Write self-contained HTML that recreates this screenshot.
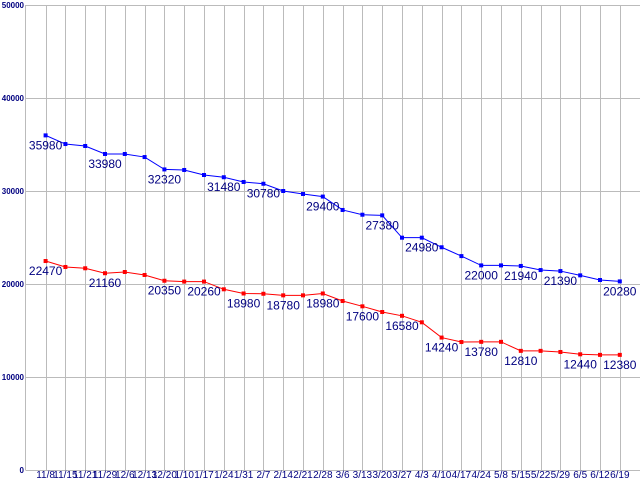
<!DOCTYPE html>
<html><head><meta charset="utf-8"><style>
body{margin:0;background:#fff}
svg{display:block;font-family:"Liberation Sans",sans-serif}
</style></head><body>
<svg id="chart" width="640" height="480" viewBox="0 0 640 480" xmlns="http://www.w3.org/2000/svg"></svg>
<script>
const categories=["11/8","11/15","11/21","11/29","12/6","12/13","12/20","1/10","1/17","1/24","1/31","2/7","2/14","2/21","2/28","3/6","3/13","3/20","3/27","4/3","4/10","4/17","4/24","5/8","5/15","5/22","5/29","6/5","6/12","6/19"];
const blueValues=[35980,35050,34840,33980,33980,33650,32320,32260,31720,31480,30970,30780,30000,29680,29400,27960,27450,27380,24980,24980,23950,23000,22000,22000,21940,21500,21390,20930,20430,20280];
const redValues=[22470,21830,21690,21160,21290,20970,20350,20260,20260,19430,18980,18950,18780,18780,18980,18170,17600,16990,16580,15880,14240,13760,13780,13780,12810,12810,12690,12440,12380,12380];
const blueLabelIdx=[0,3,6,9,11,14,17,19,22,24,26,29];
const redLabelIdx=[0,3,6,8,10,12,14,16,18,20,22,24,27,29];
const yTicks=[0,10000,20000,30000,40000,50000];
const NS="http://www.w3.org/2000/svg";
const svg=document.getElementById('chart');
const xS=i=>45.6+i*19.8;
const yS=v=>470-v*0.0093;
function mk(t,a){const e=document.createElementNS(NS,t);for(const k in a)e.setAttribute(k,a[k]);svg.appendChild(e);return e;}
yTicks.forEach(v=>{
  const l=mk('line',{x1:25.5,x2:640,y1:yS(v)+0.5,y2:yS(v)+0.5,stroke:'#bbb','stroke-width':1});
  
  
  const t=mk('text',{x:24,y:yS(v)+3,'text-anchor':'end','font-size':8,'font-weight':'bold',fill:'#000080'});
  t.textContent=v;
  
  
});
const ax=mk('line',{x1:25.5,x2:25.5,y1:5,y2:470,stroke:'#bbb'});


categories.forEach((c,i)=>{
  const g=mk('line',{x1:Math.round(xS(i))+0.5,x2:Math.round(xS(i))+0.5,y1:5,y2:470,stroke:'#bbb'});
  
  
  const t=mk('text',{x:xS(i),y:478,'text-anchor':'middle','font-size':10,fill:'#000080'});
  t.textContent=c;
  
  
});
function series(vals,color,labels,name){
  const p=mk('polyline',{points:vals.map((v,i)=>xS(i)+','+yS(v)).join(' '),fill:'none',stroke:color,'stroke-width':1});
  
  
  vals.forEach((v,i)=>{
    const r=mk('rect',{x:xS(i)-2,y:yS(v)-2,width:4,height:4,fill:color});
    
    
  });
  labels.forEach(i=>{
    const t=mk('text',{x:xS(i),y:yS(vals[i])+14,'text-anchor':'middle','font-size':12,fill:'#000080'});
    t.textContent=vals[i];
    
    
  });
}
series(blueValues,'#0000ff',blueLabelIdx,'blue-series');
series(redValues,'#ff0000',redLabelIdx,'red-series');
</script>
</body></html>
